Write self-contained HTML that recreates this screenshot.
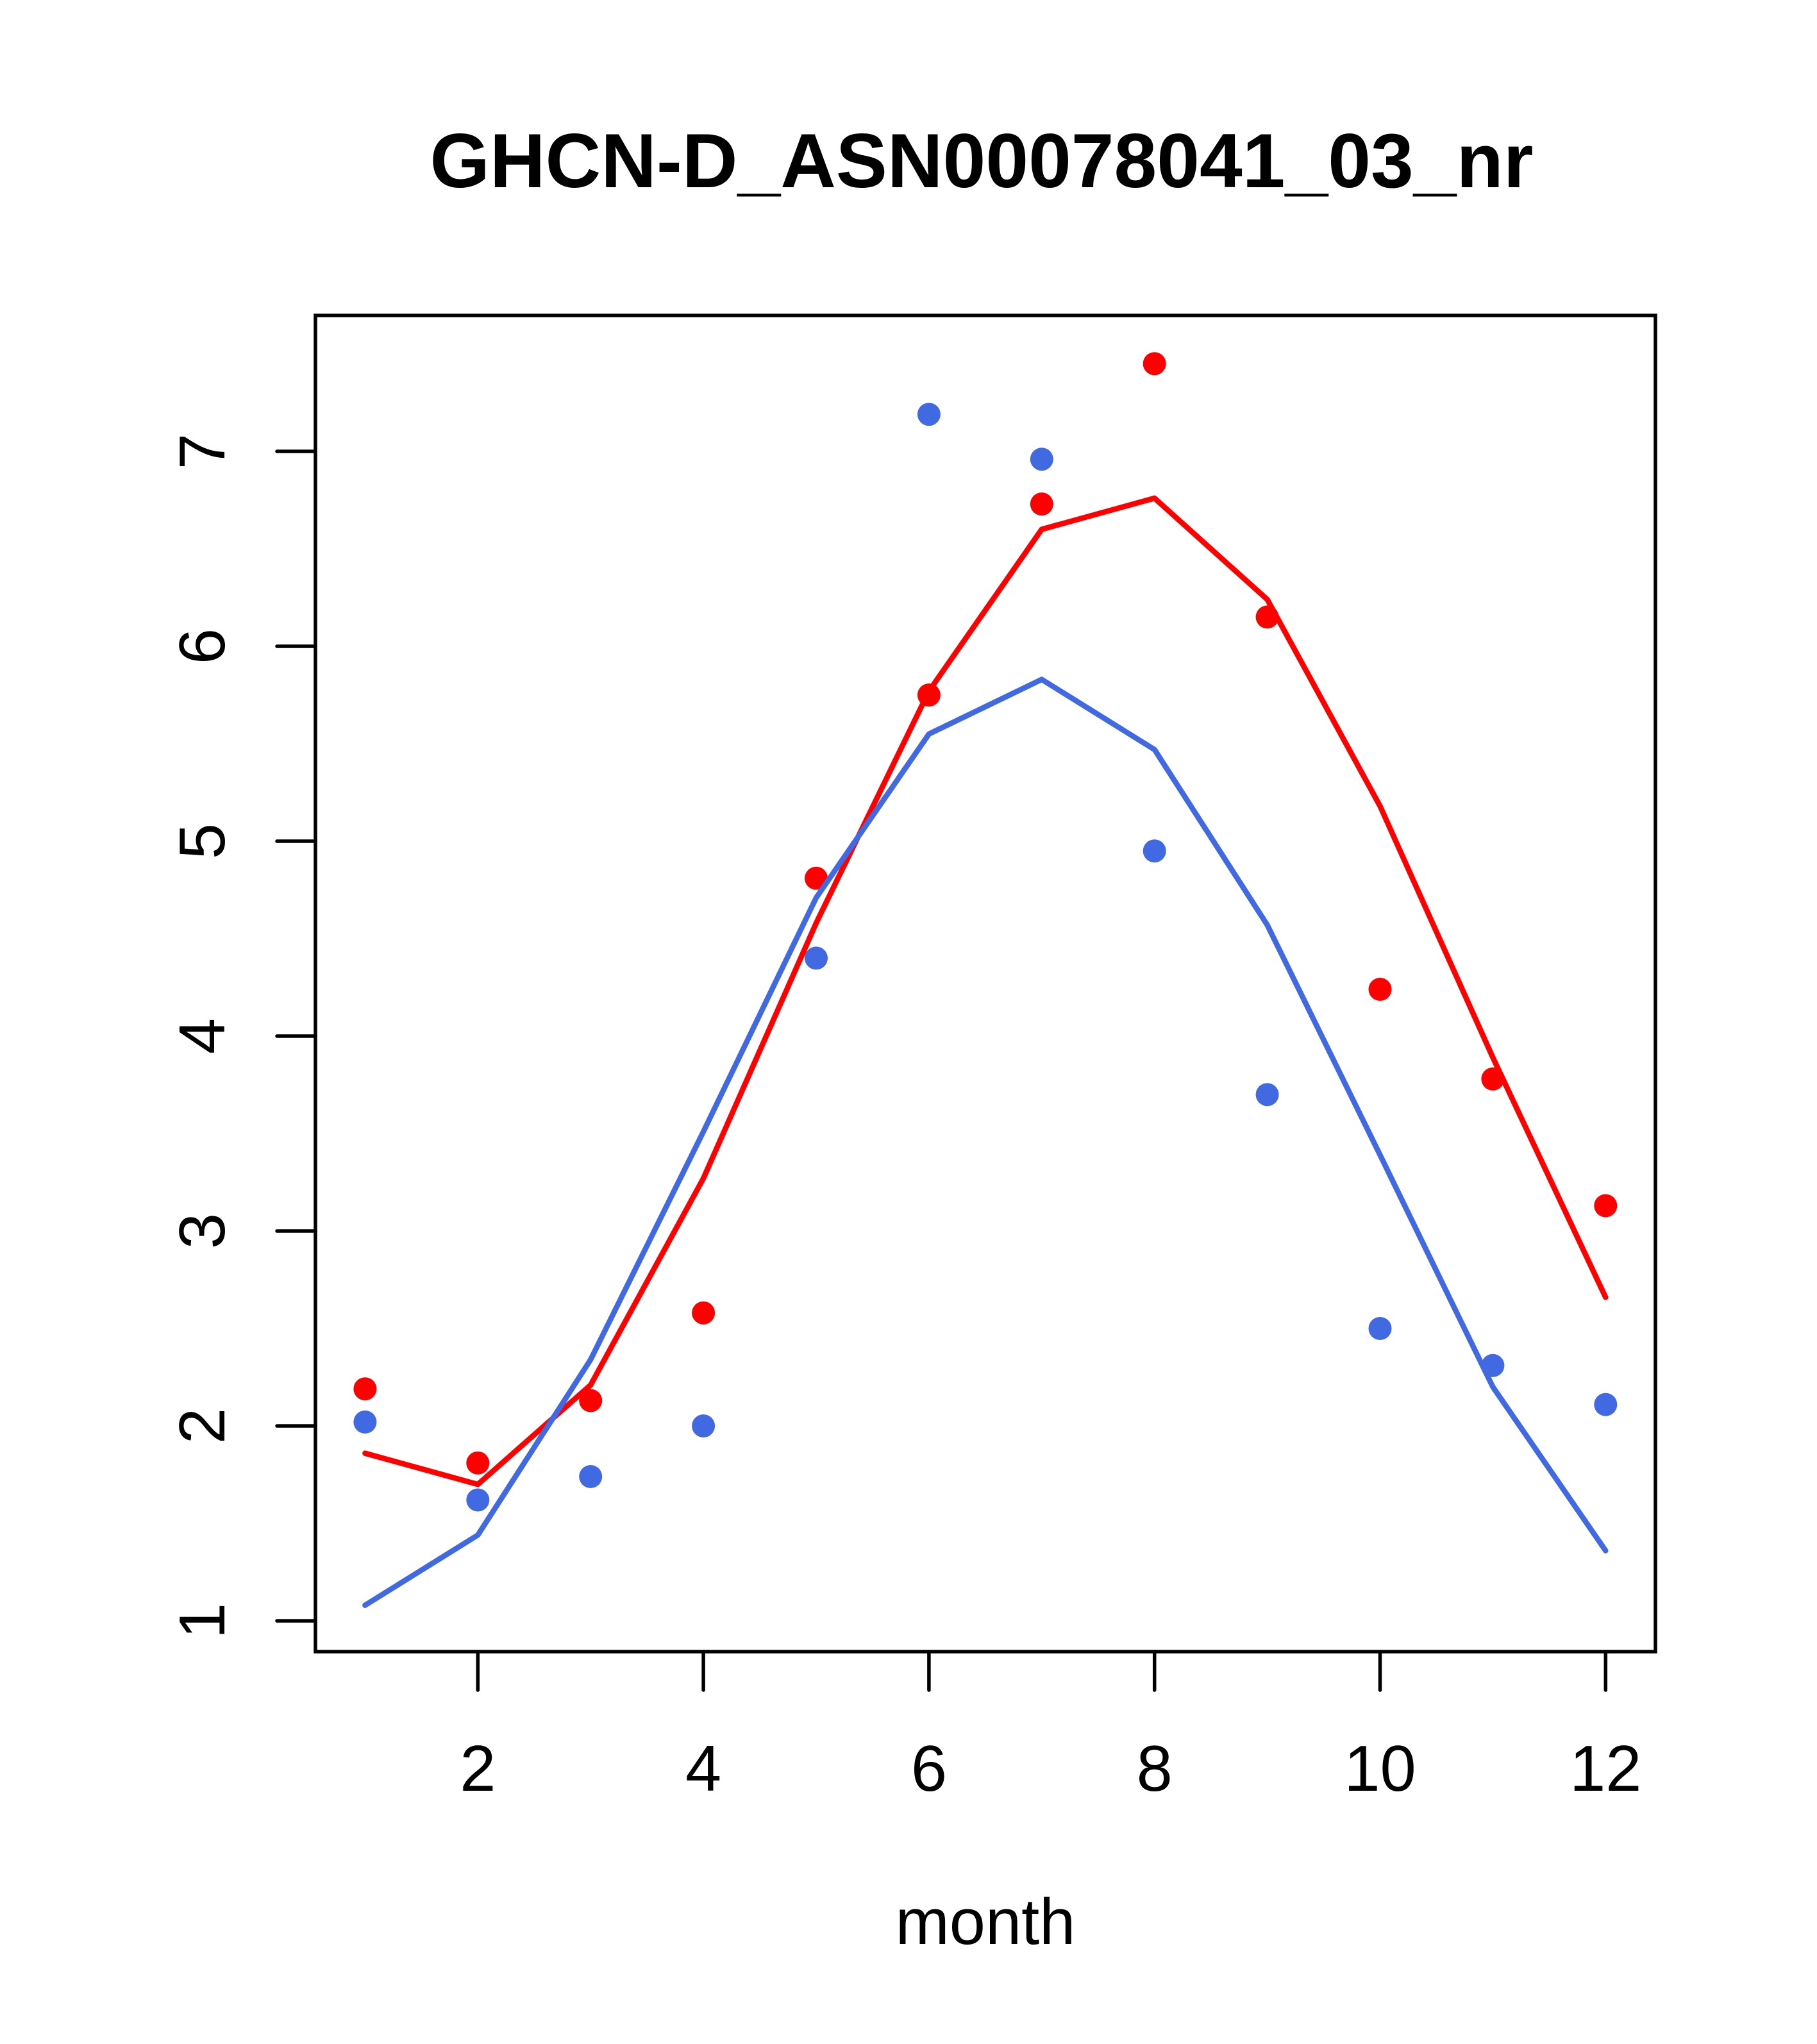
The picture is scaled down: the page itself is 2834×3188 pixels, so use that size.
<!DOCTYPE html>
<html><head><meta charset="utf-8"><style>html,body{margin:0;padding:0;background:#fff}svg{display:block}</style></head>
<body>
<svg id="s" xmlns="http://www.w3.org/2000/svg" width="2834" height="3188" viewBox="0 0 2834 3188" font-family="Liberation Sans, Arial, sans-serif">
<rect width="2834" height="3188" fill="#fff"/>
<text x="1531" y="292" font-size="120" font-weight="bold" text-anchor="middle">GHCN-D_ASN00078041_03_nr</text>
<rect x="492" y="492" width="2090" height="2084" fill="none" stroke="#000" stroke-width="5.5"/>
<g id="g"></g>
<text x="1537" y="3032" font-size="101" text-anchor="middle">month</text>
</svg>
<script>
var X=function(m){return 569.4+(m-1)*175.9}, Y=function(v){return 2528-(v-1)*304};
var rp=[2.19,1.81,2.13,2.58,4.81,5.75,6.73,7.45,6.15,4.24,3.78,3.13];
var rl=[1.86,1.70,2.21,3.27,4.58,5.77,6.60,6.76,6.24,5.18,3.89,2.66];
var bp=[2.02,1.62,1.74,2.00,4.40,7.19,6.96,4.95,3.70,2.50,2.31,2.11];
var bl=[1.08,1.44,2.34,3.51,4.71,5.55,5.83,5.47,4.57,3.39,2.20,1.36];
var h='';
for(var m=2;m<=12;m+=2){h+='<line x1="'+X(m)+'" y1="2576" x2="'+X(m)+'" y2="2636" stroke="#000" stroke-width="5.5" stroke-linecap="round"/>';
h+='<text x="'+X(m)+'" y="2793" font-size="101" text-anchor="middle">'+m+'</text>';}
for(var v=1;v<=7;v++){h+='<line x1="432" y1="'+Y(v)+'" x2="492" y2="'+Y(v)+'" stroke="#000" stroke-width="5.5" stroke-linecap="round"/>';
h+='<text transform="translate(350,'+Y(v)+') rotate(-90)" font-size="101" text-anchor="middle">'+v+'</text>';}
function line(d,c){var p=d.map(function(v,i){return X(i+1).toFixed(1)+','+Y(v).toFixed(1)}).join(' ');
return '<polyline points="'+p+'" fill="none" stroke="'+c+'" stroke-width="8.5" stroke-linecap="round" stroke-linejoin="round"/>';}
function pts(d,c){return d.map(function(v,i){return '<circle cx="'+X(i+1).toFixed(1)+'" cy="'+Y(v).toFixed(1)+'" r="18" fill="'+c+'"/>'}).join('');}
h+=pts(bp,'#4169E1')+pts(rp,'#FF0000')+line(rl,'#FF0000')+line(bl,'#4169E1');
document.getElementById('g').innerHTML=h;
</script>
</body></html>
